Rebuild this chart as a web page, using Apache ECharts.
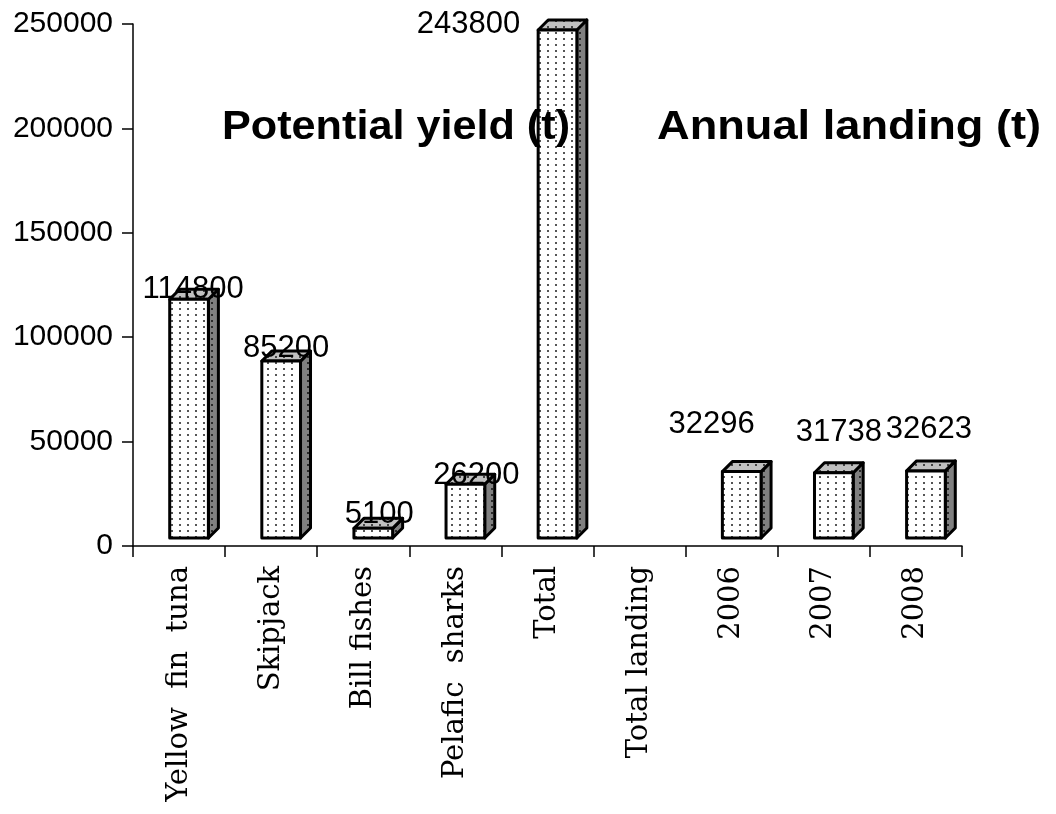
<!DOCTYPE html>
<html>
<head>
<meta charset="utf-8">
<script src="https://cdn.jsdelivr.net/npm/echarts@6/dist/echarts.min.js"></script>
<style>
  html, body { margin: 0; padding: 0; background: #fff; }
  #chart { width: 1056px; height: 814px; }
</style>
</head>
<body>
<div id="chart"></div>
<script>
// Fish categories, then the annual landing years
const categories = ['Yellow  fin  tuna', 'Skipjack', 'Bill fishes', 'Pelafic  sharks', 'Total', 'Total landing', '2006', '2007', '2008'];
// Tonnes per category (no bar for "Total landing")
const values = [114800, 85200, 5100, 26200, 243800, null, 32296, 31738, 32623];
// Value-axis ticks
const yTicks = [0, 50000, 100000, 150000, 200000, 250000];
// Chart headings
const headings = ['Potential yield (t)', 'Annual landing (t)'];

// Label nudges relative to the top-front centre of each column (pixels)
const labelShift = [[4, -10], [5, -13], [6, -14], [11, -9], [-89, -5], [0, 0], [-30, -47], [5, -40], [3, -41]];

function dotPattern(bg, dot) {
  const c = document.createElement('canvas');
  c.width = 8; c.height = 6;
  const g = c.getContext('2d');
  g.fillStyle = bg; g.fillRect(0, 0, 8, 6);
  g.fillStyle = dot; g.fillRect(3, 2, 2, 2);
  return { image: c, repeat: 'repeat' };
}
const frontFill = dotPattern('#ffffff', '#555555');
const sideFill = dotPattern('#808080', '#2a2a2a');
const topFill = dotPattern('#c0c0c0', '#444444');

const DX = 10, DY = -10;

const chart = echarts.init(document.getElementById('chart'));
chart.setOption({
  animation: false,
  backgroundColor: '#fff',
  grid: { left: 133, right: 94, top: 24, bottom: 268 },
  xAxis: {
    type: 'category',
    data: categories,
    axisLine: { lineStyle: { color: '#000', width: 1.5 } },
    axisTick: { show: true, length: 11, lineStyle: { color: '#000', width: 1.5 } },
    axisLabel: {
      interval: 0, rotate: 90, margin: 20,
      fontFamily: 'DejaVu Serif', fontSize: 29, color: '#000'
    }
  },
  yAxis: {
    type: 'value',
    min: yTicks[0], max: yTicks[yTicks.length - 1], interval: yTicks[1] - yTicks[0],
    splitLine: { show: false },
    axisLine: { show: true, lineStyle: { color: '#000', width: 1.5 } },
    axisTick: { show: true, length: 11, lineStyle: { color: '#000', width: 1.5 } },
    axisLabel: { margin: 20, fontFamily: 'Liberation Sans', fontSize: 30, color: '#000',
                 formatter: v => String(v) }
  },
  graphic: [
    { type: 'text', x: 222, y: 128, scaleX: 1.08, z: 100,
      style: { text: headings[0], x: 0, y: 0, textAlign: 'left', textVerticalAlign: 'middle',
               font: 'bold 40px "Liberation Sans"', fill: '#000' } },
    { type: 'text', x: 657, y: 128, scaleX: 1.13, z: 100,
      style: { text: headings[1], x: 0, y: 0, textAlign: 'left', textVerticalAlign: 'middle',
               font: 'bold 40px "Liberation Sans"', fill: '#000' } }
  ],
  series: [{
    type: 'custom',
    data: values.map((v, i) => [i, v == null ? '-' : v]),
    encode: { x: 0, y: 1 },
    z: 2,
    renderItem: function (params, api) {
      const idx = api.value(0);
      const v = api.value(1);
      if (v == null || isNaN(v)) return null;
      const topPt = api.coord([idx, v]);
      const basePt = api.coord([idx, 0]);
      const bw = api.size([1, 0])[0] * 0.42;
      const cx = topPt[0] + 10;
      const L = cx - bw / 2, R = cx + bw / 2;
      const yT = topPt[1] - 7, yB = basePt[1] - 8;
      const edge = { stroke: '#000', lineWidth: 3, lineJoin: 'round' };
      const sh = labelShift[idx];
      return {
        type: 'group',
        children: [
          { type: 'polygon', shape: { points: [[R, yT], [R + DX, yT + DY], [R + DX, yB + DY], [R, yB]] },
            style: Object.assign({ fill: sideFill }, edge) },
          { type: 'polygon', shape: { points: [[L, yT], [L + DX, yT + DY], [R + DX, yT + DY], [R, yT]] },
            style: Object.assign({ fill: topFill }, edge) },
          { type: 'rect', shape: { x: L, y: yT, width: R - L, height: yB - yT },
            style: Object.assign({ fill: frontFill }, edge) },
          { type: 'text', x: cx + sh[0], y: yT + sh[1],
            style: { text: String(v), textAlign: 'center', textVerticalAlign: 'middle',
                     font: '31px "Liberation Sans"', fill: '#000' } }
        ]
      };
    }
  }]
});
</script>
</body>
</html>
